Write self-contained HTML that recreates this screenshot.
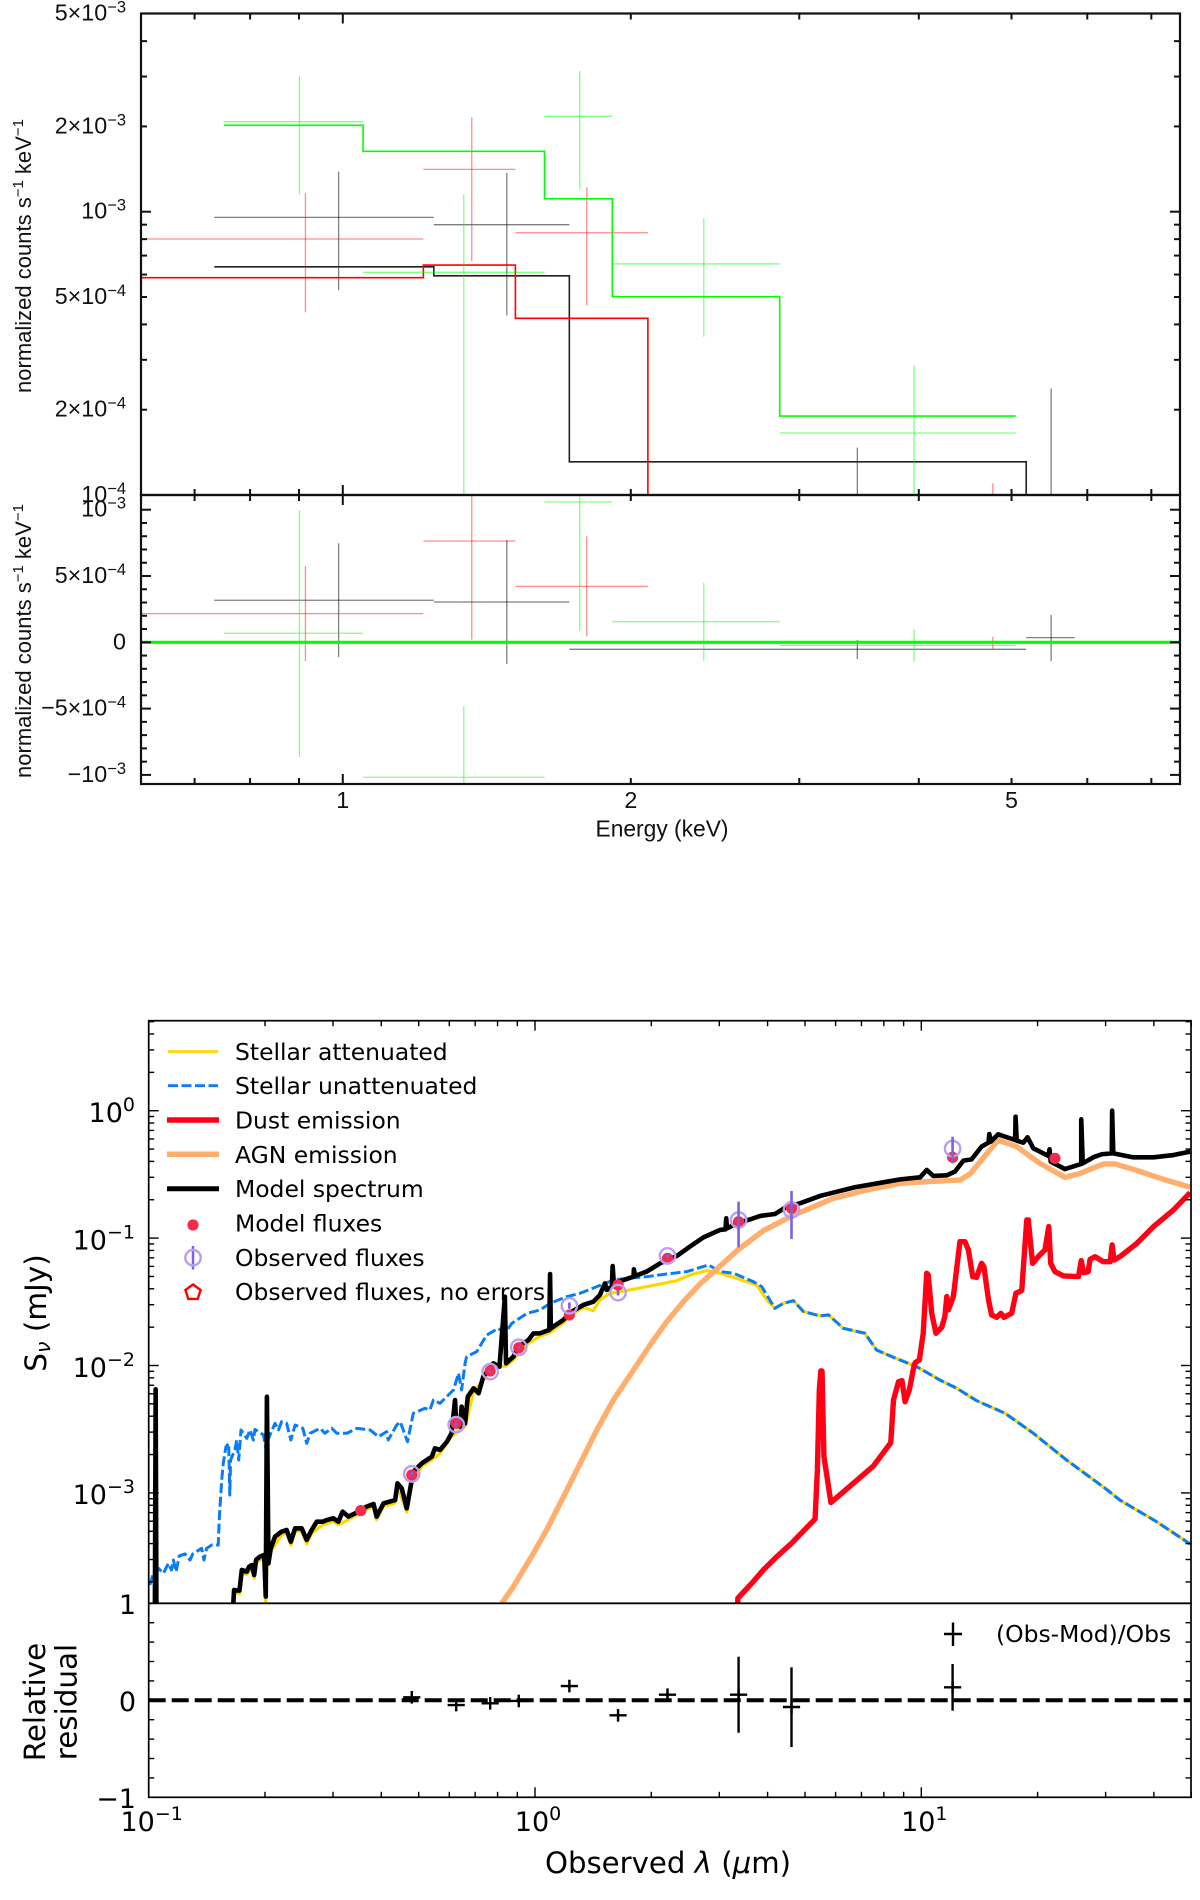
<!DOCTYPE html>
<html lang="en">
<head>
<meta charset="utf-8">
<title>X-ray spectrum and SED fit</title>
<style>
html,body{margin:0;padding:0;background:#fff;}
svg{display:block;}
.xt{font-family:"Liberation Sans",sans-serif;fill:#111;}
.sed{font-family:"DejaVu Sans",sans-serif;fill:#000;}
</style>
</head>
<body>
<svg id="figure" xmlns="http://www.w3.org/2000/svg" width="1200" height="1900" viewBox="0 0 1200 1900">
  <defs>
    <clipPath id="clip-top"><rect x="141" y="13.5" width="1039" height="481.5"/></clipPath>
    <clipPath id="clip-res"><rect x="141" y="495" width="1039" height="289"/></clipPath>
    <clipPath id="clip-sed"><rect x="148.7" y="1020.7" width="1042.3" height="582.6"/></clipPath>
  </defs>
  <rect x="0" y="0" width="1200" height="1900" fill="#fff"/>

  <g id="xray-spectrum-panel">
    <g id="xray-spectrum-marks" clip-path="url(#clip-top)"></g>
    <g id="xray-spectrum-ticks"></g>
    <rect x="141" y="13.5" width="1039" height="481.5" fill="none" stroke="#111" stroke-width="2.2"/>
  </g>
  <g id="xray-residual-panel">
    <g id="xray-residual-marks" clip-path="url(#clip-res)"></g>
    <g id="xray-residual-ticks"></g>
    <rect x="141" y="495" width="1039" height="289" fill="none" stroke="#111" stroke-width="2.2"/>
  </g>
  <text class="xt" transform="translate(31,256) rotate(-90)" text-anchor="middle" font-size="22">normalized counts s<tspan font-size="15" dy="-8">−1</tspan><tspan dy="8"> keV</tspan><tspan font-size="15" dy="-8">−1</tspan></text>
  <text class="xt" transform="translate(31,641) rotate(-90)" text-anchor="middle" font-size="22">normalized counts s<tspan font-size="15" dy="-8">−1</tspan><tspan dy="8"> keV</tspan><tspan font-size="15" dy="-8">−1</tspan></text>
  <text class="xt" x="662" y="836.5" text-anchor="middle" font-size="22.8">Energy (keV)</text>

  <g id="sed-panel">
    <g id="sed-marks" clip-path="url(#clip-sed)"></g>
    <g id="sed-ticks"></g>
    <rect x="148.7" y="1020.7" width="1042.3" height="582.6" fill="none" stroke="#000" stroke-width="1.7"/>
  </g>
  <g id="sed-residual-panel">
    <g id="sed-residual-marks"></g>
    <g id="sed-residual-ticks"></g>
    <rect x="148.7" y="1603.3" width="1042.3" height="194" fill="none" stroke="#000" stroke-width="1.7"/>
  </g>

  <g id="sed-legend">
    <g>
      <line x1="168" y1="1051.5" x2="218" y2="1051.5" stroke="#ffd700" stroke-width="2.8"/>
      <text class="sed" x="235" y="1060" font-size="23.45">Stellar attenuated</text>
    </g>
    <g>
      <line x1="168" y1="1085.7" x2="218" y2="1085.7" stroke="#0a7cf5" stroke-width="2.8" stroke-dasharray="10 3.5"/>
      <text class="sed" x="235" y="1094.2" font-size="23.45">Stellar unattenuated</text>
    </g>
    <g>
      <line x1="167" y1="1120" x2="219" y2="1120" stroke="#ff0015" stroke-width="5.5"/>
      <text class="sed" x="235" y="1128.5" font-size="23.45">Dust emission</text>
    </g>
    <g>
      <line x1="167" y1="1154.3" x2="219" y2="1154.3" stroke="#ffae6b" stroke-width="5.5"/>
      <text class="sed" x="235" y="1162.8" font-size="23.45">AGN emission</text>
    </g>
    <g>
      <line x1="167" y1="1188.7" x2="219" y2="1188.7" stroke="#000" stroke-width="5"/>
      <text class="sed" x="235" y="1197.2" font-size="23.45">Model spectrum</text>
    </g>
    <g>
      <circle cx="193" cy="1225" r="5.6" fill="#f42b4f"/>
      <text class="sed" x="235" y="1231.5" font-size="23.45">Model fluxes</text>
    </g>
    <g>
      <line x1="193" y1="1246" x2="193" y2="1269.5" stroke="#7b63d9" stroke-width="2.5"/>
      <circle cx="193" cy="1257.7" r="7.7" fill="none" stroke="#b99ff0" stroke-width="2.4"/>
      <text class="sed" x="235" y="1265.8" font-size="23.45">Observed fluxes</text>
    </g>
    <g>
      <polygon points="193,1284.5 200.6,1290 197.7,1298.9 188.3,1298.9 185.4,1290" fill="none" stroke="#f00" stroke-width="2.4"/>
      <text class="sed" x="235" y="1300.2" font-size="23.45">Observed fluxes, no errors</text>
    </g>
  </g>

  <text class="sed" transform="translate(46,1313) rotate(-90)" text-anchor="middle" font-size="29.5">S<tspan font-size="20.5" dy="4" font-style="italic">ν</tspan><tspan dy="-4"> (mJy)</tspan></text>
  <text class="sed" transform="translate(45,1702) rotate(-90)" text-anchor="middle" font-size="29.4">Relative</text>
  <text class="sed" transform="translate(76.5,1702) rotate(-90)" text-anchor="middle" font-size="29.4">residual</text>
  <text class="sed" x="668" y="1873" text-anchor="middle" font-size="29.2">Observed <tspan font-style="italic">λ</tspan> (<tspan font-style="italic">μ</tspan>m)</text>
  <g>
    <line x1="944" y1="1634" x2="962" y2="1634" stroke="#000" stroke-width="2.4"/>
    <line x1="953" y1="1622.5" x2="953" y2="1646" stroke="#000" stroke-width="2.4"/>
    <text class="sed" x="996" y="1642" font-size="23.45">(Obs-Mod)/Obs</text>
  </g>
</svg>

<script>
// ---------- X-ray spectrum: energies in keV, rates in counts/s/keV ----------
const blackEnergyLo = [0.734, 1.245, 1.725, 5.50];
const blackEnergyHi = [1.245, 1.725, 5.18, 5.50];
const blackEnergy = [0.990, 1.484, 3.45, 5.50];
const blackRate = [9.55e-4, 9.00e-4, 9.0e-5, 7.0e-5];
const blackRateHi = [1.384e-3, 1.37e-3, 1.47e-4, 2.38e-4];
const blackRateLo = [5.28e-4, 4.30e-4, 5.0e-5, 4.0e-5];
const blackModelEdges = [0.734, 1.245, 1.725, 5.18];
const blackModel = [6.39e-4, 5.94e-4, 1.31e-4, 5.0e-5];
const blackResidualLo = [0.734, 1.245, 1.725, 5.18];
const blackResidualHi = [1.245, 1.725, 5.18, 5.82];
const blackResidual = [3.17e-4, 3.04e-4, -5.3e-5, 3.5e-5];
const blackResidualUp = [7.47e-4, 7.71e-4, 1.7e-5, 2.06e-4];
const blackResidualDown = [-1.11e-4, -1.64e-4, -1.26e-4, -1.41e-4];

const redEnergyLo = [0.60, 1.214, 1.515, 4.78];
const redEnergyHi = [1.214, 1.515, 2.084, 4.78];
const redEnergy = [0.914, 1.364, 1.799, 4.78];
const redRate = [8.01e-4, 1.411e-3, 8.43e-4, 9.0e-5];
const redRateHi = [1.161e-3, 2.154e-3, 1.219e-3, 1.10e-4];
const redRateLo = [4.415e-4, 6.70e-4, 4.66e-4, 5.0e-5];
const redModelEdges = [0.60, 1.214, 1.515, 2.084];
const redModel = [5.85e-4, 6.48e-4, 4.205e-4, 5.0e-5];
const redResidual = [2.16e-4, 7.64e-4, 4.22e-4, -3.0e-6];
const redResidualUp = [5.75e-4, 1.25e-3, 7.99e-4, 4.2e-5];
const redResidualDown = [-1.43e-4, 2.0e-5, 4.5e-5, -4.8e-5];

const greenEnergyLo = [0.751, 1.050, 1.625, 1.913, 2.862];
const greenEnergyHi = [1.050, 1.625, 1.913, 2.862, 5.05];
const greenEnergy = [0.901, 1.338, 1.769, 2.384, 3.955];
const greenRate = [2.078e-3, 6.11e-4, 2.171e-3, 6.54e-4, 1.655e-4];
const greenRateHi = [3.01e-3, 1.148e-3, 3.14e-3, 9.48e-4, 2.87e-4];
const greenRateLo = [1.152e-3, 5.0e-5, 1.20e-3, 3.62e-4, 5.0e-5];
const greenModelEdges = [0.751, 1.050, 1.625, 1.913, 2.862, 5.05];
const greenModel = [2.018e-3, 1.634e-3, 1.111e-3, 5.01e-4, 1.90e-4];
const greenResidual = [6.8e-5, -1.018e-3, 1.058e-3, 1.55e-4, -2.3e-5];
const greenResidualUp = [9.98e-4, -4.83e-4, 1.3e-3, 4.47e-4, 9.8e-5];
const greenResidualDown = [-8.65e-4, -1.3e-3, 8.7e-5, -1.39e-4, -1.46e-4];

const xrayEnergyTicks = [0.7, 0.8, 0.9, 1, 2, 3, 4, 5, 6, 7];
const xrayEnergyLabelValues = [1, 2, 5];
const xrayEnergyLabels = ['1', '2', '5'];
const xrayRateMinorTicks = [4e-3, 3e-3, 2e-3, 9e-4, 8e-4, 7e-4, 6e-4, 5e-4, 4e-4, 3e-4, 2e-4];
const xrayRateLabelValues = [5e-3, 2e-3, 1e-3, 5e-4, 2e-4, 1e-4];
const xrayRateLabelBases = ['5×10', '2×10', '10', '5×10', '2×10', '10'];
const xrayRateLabelExps = ['−3', '−3', '−3', '−4', '−4', '−4'];
const residualTicks = [-1e-3, -9e-4, -8e-4, -7e-4, -6e-4, -5e-4, -4e-4, -3e-4, -2e-4, -1e-4, 0, 1e-4, 2e-4, 3e-4, 4e-4, 5e-4, 6e-4, 7e-4, 8e-4, 9e-4, 1e-3];
const residualMajorTicks = [-1e-3, -5e-4, 0, 5e-4, 1e-3];
const residualLabelValues = [1e-3, 5e-4, 0, -5e-4, -1e-3];
const residualLabelBases = ['10', '5×10', '0', '−5×10', '−10'];
const residualLabelExps = ['−3', '−4', '', '−4', '−3'];

// ---------- SED: log10(wavelength / micron), log10(flux / mJy) ----------
const modelLogWave = [-0.984,-0.982,-0.980,-0.7825,-0.779,-0.765,-0.759,-0.746,-0.740,-0.733,-0.727,-0.722,-0.712,-0.701,-0.697,-0.694,-0.690,-0.684,-0.673,-0.656,-0.643,-0.632,-0.621,-0.604,-0.591,-0.578,-0.565,-0.549,-0.539,-0.522,-0.509,-0.498,-0.483,-0.457,-0.436,-0.418,-0.410,-0.392,-0.362,-0.356,-0.345,-0.332,-0.319,-0.315,-0.293,-0.267,-0.259,-0.246,-0.228,-0.216,-0.207,-0.204,-0.194,-0.190,-0.181,-0.174,-0.159,-0.146,-0.134,-0.108,-0.092,-0.086,-0.078,-0.075,-0.056,-0.043,-0.017,-0.004,0.013,0.037,0.039,0.041,0.073,0.095,0.125,0.151,0.168,0.181,0.186,0.199,0.201,0.204,0.255,0.256,0.259,0.289,0.324,0.367,0.401,0.436,0.479,0.493,0.495,0.497,0.527,0.557,0.583,0.621,0.652,0.686,0.738,0.828,0.945,0.997,1.014,1.031,1.066,1.087,1.109,1.130,1.156,1.174,1.176,1.180,1.199,1.243,1.244,1.247,1.264,1.275,1.290,1.329,1.332,1.335,1.372,1.414,1.414,1.418,1.445,1.467,1.493,1.494,1.497,1.549,1.601,1.653,1.696];
const modelLogFlux = [-3.95,-2.187,-3.95,-3.95,-3.762,-3.767,-3.605,-3.618,-3.579,-3.566,-3.644,-3.526,-3.500,-3.487,-3.814,-2.245,-3.552,-3.435,-3.343,-3.304,-3.291,-3.383,-3.278,-3.278,-3.369,-3.291,-3.226,-3.226,-3.213,-3.199,-3.226,-3.147,-3.186,-3.147,-3.108,-3.087,-3.186,-3.082,-3.056,-2.925,-2.964,-3.121,-2.899,-2.833,-2.768,-2.715,-2.650,-2.663,-2.598,-2.532,-2.271,-2.467,-2.480,-2.323,-2.454,-2.245,-2.179,-2.218,-2.088,-1.983,-2.009,-1.774,-1.460,-1.983,-1.931,-1.852,-1.800,-1.748,-1.747,-1.721,-1.282,-1.708,-1.643,-1.577,-1.525,-1.499,-1.446,-1.355,-1.407,-1.381,-1.219,-1.355,-1.303,-1.245,-1.297,-1.263,-1.198,-1.140,-1.067,-0.994,-0.936,-0.931,-0.845,-0.923,-0.879,-0.853,-0.826,-0.811,-0.753,-0.727,-0.669,-0.601,-0.539,-0.523,-0.465,-0.512,-0.507,-0.478,-0.392,-0.382,-0.282,-0.251,-0.183,-0.243,-0.185,-0.230,-0.047,-0.235,-0.251,-0.209,-0.295,-0.355,-0.303,-0.400,-0.458,-0.418,-0.068,-0.413,-0.366,-0.342,-0.335,0.000,-0.335,-0.366,-0.366,-0.348,-0.321];

const attenuatedLogWave = [-0.782,-0.779,-0.765,-0.759,-0.746,-0.733,-0.727,-0.722,-0.701,-0.697,-0.694,-0.684,-0.656,-0.643,-0.632,-0.621,-0.604,-0.591,-0.578,-0.549,-0.522,-0.509,-0.483,-0.436,-0.418,-0.410,-0.392,-0.362,-0.356,-0.332,-0.319,-0.293,-0.267,-0.246,-0.216,-0.194,-0.181,-0.159,-0.134,-0.108,-0.075,-0.056,-0.017,0.013,0.037,0.073,0.095,0.125,0.151,0.168,0.194,0.237,0.289,0.367,0.401,0.445,0.479,0.522,0.574,0.600,0.621,0.643,0.669,0.695,0.738,0.760,0.798,0.854,0.884,0.928,0.988,1.048,1.092,1.143,1.217,1.290,1.376,1.476,1.514,1.609,1.696];
const attenuatedLogFlux = [-3.95,-3.785,-3.79,-3.63,-3.64,-3.59,-3.67,-3.55,-3.51,-3.87,-3.58,-3.46,-3.33,-3.315,-3.41,-3.30,-3.30,-3.40,-3.315,-3.25,-3.225,-3.25,-3.21,-3.13,-3.11,-3.21,-3.105,-3.08,-2.95,-3.15,-2.925,-2.79,-2.74,-2.69,-2.555,-2.505,-2.48,-2.205,-2.115,-2.005,-2.005,-1.955,-1.825,-1.77,-1.745,-1.665,-1.60,-1.545,-1.57,-1.486,-1.433,-1.412,-1.381,-1.334,-1.289,-1.255,-1.276,-1.316,-1.368,-1.486,-1.551,-1.512,-1.491,-1.577,-1.611,-1.603,-1.708,-1.747,-1.878,-1.936,-2.009,-2.114,-2.179,-2.276,-2.375,-2.532,-2.742,-2.964,-3.056,-3.226,-3.401];

const unattenuatedLogWave = [-0.997,-0.988,-0.975,-0.962,-0.949,-0.941,-0.936,-0.929,-0.921,-0.906,-0.893,-0.886,-0.863,-0.857,-0.850,-0.837,-0.820,-0.817,-0.811,-0.807,-0.800,-0.793,-0.790,-0.788,-0.777,-0.772,-0.767,-0.761,-0.746,-0.738,-0.729,-0.725,-0.703,-0.696,-0.690,-0.673,-0.664,-0.656,-0.643,-0.632,-0.621,-0.601,-0.591,-0.582,-0.556,-0.544,-0.526,-0.513,-0.487,-0.461,-0.427,-0.405,-0.384,-0.380,-0.358,-0.349,-0.330,-0.315,-0.285,-0.272,-0.263,-0.246,-0.211,-0.198,-0.190,-0.181,-0.177,-0.151,-0.125,-0.095,-0.078,-0.060,-0.021,0.013,0.039,0.082,0.117,0.160,0.203,0.237,0.289,0.341,0.393,0.449,0.479,0.514,0.565,0.587,0.600,0.621,0.643,0.669,0.695,0.738,0.760,0.798,0.854,0.884,0.928,0.988,1.048,1.092,1.143,1.217,1.290,1.376,1.476,1.514,1.609,1.696];
const unattenuatedLogFlux = [-3.723,-3.631,-3.592,-3.631,-3.553,-3.605,-3.527,-3.618,-3.495,-3.479,-3.527,-3.479,-3.435,-3.527,-3.435,-3.409,-3.409,-3.186,-2.899,-2.768,-2.637,-2.611,-3.016,-2.742,-2.663,-2.585,-2.742,-2.506,-2.572,-2.506,-2.585,-2.501,-2.545,-2.663,-2.572,-2.454,-2.506,-2.441,-2.454,-2.585,-2.467,-2.493,-2.611,-2.532,-2.493,-2.532,-2.493,-2.532,-2.532,-2.493,-2.506,-2.559,-2.519,-2.585,-2.467,-2.441,-2.598,-2.375,-2.336,-2.349,-2.271,-2.297,-2.192,-2.061,-2.192,-1.983,-1.931,-1.891,-1.761,-1.708,-1.748,-1.669,-1.591,-1.564,-1.512,-1.460,-1.433,-1.381,-1.329,-1.316,-1.303,-1.282,-1.263,-1.211,-1.263,-1.276,-1.342,-1.381,-1.446,-1.551,-1.512,-1.491,-1.577,-1.611,-1.603,-1.708,-1.747,-1.878,-1.936,-2.009,-2.114,-2.179,-2.276,-2.375,-2.532,-2.742,-2.964,-3.056,-3.226,-3.401];

const dustLogWave = [0.525,0.525,0.561,0.591,0.626,0.664,0.725,0.731,0.736,0.740,0.743,0.748,0.766,0.876,0.921,0.928,0.941,0.950,0.958,0.969,0.979,0.984,0.995,1.005,1.014,1.018,1.027,1.038,1.053,1.061,1.066,1.070,1.083,1.100,1.113,1.122,1.133,1.143,1.156,1.162,1.174,1.182,1.195,1.206,1.214,1.234,1.245,1.260,1.273,1.277,1.288,1.307,1.320,1.330,1.335,1.346,1.368,1.407,1.414,1.420,1.432,1.437,1.450,1.471,1.489,1.494,1.499,1.514,1.558,1.601,1.653,1.696];
const dustLogFlux = [-3.867,-3.827,-3.710,-3.605,-3.500,-3.396,-3.205,-2.820,-2.192,-2.043,-2.043,-2.715,-3.076,-2.789,-2.606,-2.271,-2.127,-2.119,-2.284,-2.192,-2.035,-1.978,-1.957,-1.747,-1.276,-1.289,-1.590,-1.747,-1.700,-1.616,-1.459,-1.564,-1.459,-1.028,-1.028,-1.093,-1.302,-1.308,-1.198,-1.224,-1.486,-1.603,-1.622,-1.590,-1.622,-1.590,-1.433,-1.412,-0.858,-0.858,-1.198,-1.132,-1.093,-0.910,-1.198,-1.263,-1.297,-1.302,-1.177,-1.271,-1.263,-1.166,-1.146,-1.185,-1.185,-1.054,-1.172,-1.146,-1.041,-0.910,-0.779,-0.643];

const agnLogWave = [-0.086,-0.056,-0.030,-0.004,0.030,0.065,0.117,0.160,0.203,0.255,0.298,0.341,0.384,0.427,0.470,0.527,0.591,0.665,0.772,0.859,0.945,1.014,1.100,1.126,1.199,1.247,1.307,1.372,1.411,1.471,1.501,1.549,1.627,1.696];
const agnLogFlux = [-3.867,-3.736,-3.605,-3.474,-3.291,-3.082,-2.768,-2.506,-2.270,-2.035,-1.839,-1.656,-1.499,-1.360,-1.245,-1.088,-0.942,-0.826,-0.688,-0.622,-0.570,-0.557,-0.544,-0.497,-0.230,-0.282,-0.413,-0.523,-0.492,-0.418,-0.418,-0.460,-0.539,-0.601];

const modelFluxLogWave = [-0.451,-0.319,-0.204,-0.116,-0.042,0.089,0.215,0.343,0.527,0.664,1.081,1.346];
const modelFluxLogFlux = [-3.139,-2.859,-2.454,-2.043,-1.860,-1.604,-1.368,-1.159,-0.871,-0.766,-0.366,-0.374];

const observedLogWave = [-0.319,-0.204,-0.116,-0.042,0.089,0.215,0.343,0.527,0.664,1.081];
const observedLogFlux = [-2.851,-2.464,-2.048,-1.857,-1.531,-1.428,-1.140,-0.858,-0.779,-0.298];
const observedLogUpper = [-2.835,-2.445,-2.040,-1.848,-1.505,-1.405,-1.125,-0.714,-0.630,-0.204];
const observedLogLower = [-2.865,-2.480,-2.056,-1.866,-1.555,-1.450,-1.155,-1.072,-1.007,-0.413];

const relativeResidual = [0.031,-0.049,-0.031,-0.007,0.147,-0.155,0.058,0.058,-0.069,0.134];
const relativeResidualUpper = [0.06,-0.03,-0.02,0,0.16,-0.14,0.09,0.449,0.34,0.374];
const relativeResidualLower = [0,-0.07,-0.04,-0.015,0.13,-0.17,0.02,-0.334,-0.481,-0.107];

const sedXDecades = [-1, 0, 1];
const sedXLabelBases = ['10', '10', '10'];
const sedXLabelExps = ['−1', '0', '1'];
const sedYDecades = [0, -1, -2, -3];
const sedYLabelExps = ['0', '−1', '−2', '−3'];
const sedResidualLabelValues = [1, 0, -1];
const sedResidualLabels = ['1', '0', '−1'];
const sedResidualTicks = [-0.8, -0.6, -0.4, -0.2, 0, 0.2, 0.4, 0.6, 0.8];

// ---------- helpers and axis functions ----------
const NS = 'http://www.w3.org/2000/svg';
function mk(parent, tag, attrs) {
  const el = document.createElementNS(NS, tag);
  for (const k in attrs) el.setAttribute(k, attrs[k]);
  parent.appendChild(el);
  return el;
}
const log10 = Math.log10;
function topX(e) { return 141 + (log10(e) - log10(0.6153)) / (log10(7.5) - log10(0.6153)) * 1039; }
function topY(v) { return 495 - (log10(Math.max(v, 1e-6)) + 4) * 283.3; }
function resY(v) { return 642.3 - v * 132600; }
function sedX(l) { return 148.7 + (l + 1) * 386.3; }
function sedY(f) { return 1110.7 - f * 127.4; }
function sedResY(v) { return 1700.3 - v * 97; }
function polyPath(xs, ys, fx, fy) {
  let d = '';
  for (let i = 0; i < xs.length; i++) {
    d += (i ? 'L' : 'M') + fx(xs[i]).toFixed(2) + ' ' + fy(ys[i]).toFixed(2);
  }
  return d;
}
function stepPath(edges, values) {
  let d = '';
  for (let i = 0; i < edges.length - 1; i++) {
    d += (i ? 'L' : 'M') + topX(edges[i]).toFixed(2) + ' ' + topY(values[i]).toFixed(2);
    d += 'L' + topX(edges[i + 1]).toFixed(2) + ' ' + topY(values[i]).toFixed(2);
  }
  if (values.length === edges.length) {
    d += 'L' + topX(edges[edges.length - 1]).toFixed(2) + ' ' + topY(values[values.length - 1]).toFixed(2);
  }
  return d;
}

const topMarks = document.getElementById('xray-spectrum-marks');
const resMarks = document.getElementById('xray-residual-marks');

function drawXraySeries(name, color, alphaColor, lo, hi, en, rate, up, down, edges, model) {
  for (let i = 0; i < en.length; i++) {
    const h = mk(topMarks, 'line', {x1: topX(lo[i]), x2: topX(hi[i]), y1: topY(rate[i]), y2: topY(rate[i]), stroke: alphaColor, 'stroke-width': 1.3});
    
    
    const v = mk(topMarks, 'line', {x1: topX(en[i]), x2: topX(en[i]), y1: topY(up[i]), y2: topY(down[i]), stroke: alphaColor, 'stroke-width': 1.3});
    
    
  }
  const m = mk(topMarks, 'path', {d: stepPath(edges, model), fill: 'none', stroke: color, 'stroke-width': 1.6});
  
  
}
function drawXrayResidual(name, alphaColor, lo, hi, en, res, up, down) {
  for (let i = 0; i < en.length; i++) {
    const h = mk(resMarks, 'line', {x1: topX(lo[i]), x2: topX(hi[i]), y1: resY(res[i]), y2: resY(res[i]), stroke: alphaColor, 'stroke-width': 1.3});
    
    
    const v = mk(resMarks, 'line', {x1: topX(en[i]), x2: topX(en[i]), y1: resY(up[i]), y2: resY(down[i]), stroke: alphaColor, 'stroke-width': 1.3});
    
    
  }
}
drawXraySeries('black', '#222', 'rgba(0,0,0,0.5)', blackEnergyLo, blackEnergyHi, blackEnergy, blackRate, blackRateHi, blackRateLo, blackModelEdges, blackModel);
drawXraySeries('red', '#ff0000', 'rgba(255,0,0,0.45)', redEnergyLo, redEnergyHi, redEnergy, redRate, redRateHi, redRateLo, redModelEdges, redModel);
drawXraySeries('green', '#00ff00', 'rgba(0,255,0,0.48)', greenEnergyLo, greenEnergyHi, greenEnergy, greenRate, greenRateHi, greenRateLo, greenModelEdges, greenModel);
drawXrayResidual('black', 'rgba(0,0,0,0.5)', blackResidualLo, blackResidualHi, blackEnergy, blackResidual, blackResidualUp, blackResidualDown);
drawXrayResidual('red', 'rgba(255,0,0,0.45)', redEnergyLo, redEnergyHi, redEnergy, redResidual, redResidualUp, redResidualDown);
drawXrayResidual('green', 'rgba(0,255,0,0.48)', greenEnergyLo, greenEnergyHi, greenEnergy, greenResidual, greenResidualUp, greenResidualDown);
const zeroLine = mk(resMarks, 'line', {x1: 141, x2: 1180, y1: resY(0), y2: resY(0), stroke: '#00ff00', 'stroke-width': 3.2});



// X-ray ticks
const topTicks = document.getElementById('xray-spectrum-ticks');
const resTicks = document.getElementById('xray-residual-ticks');
xrayEnergyTicks.forEach(function (e) {
  const len = e === 1 ? 10 : 6;
  const x = topX(e);
  [[topTicks, 13.5, 13.5 + len], [topTicks, 495, 495 - len], [resTicks, 495, 495 + len], [resTicks, 784, 784 - len]].forEach(function (t) {
    const tick = mk(t[0], 'line', {x1: x, x2: x, y1: t[1], y2: t[2], stroke: '#111', 'stroke-width': 2});
    
    
  });
});
function drawYTick(group, y, x0, x1, len, name, color, w) {
  const a = mk(group, 'line', {x1: x0, x2: x0 + len, y1: y, y2: y, stroke: color, 'stroke-width': w});
  
  
  const b = mk(group, 'line', {x1: x1, x2: x1 - len, y1: y, y2: y, stroke: color, 'stroke-width': w});
  
  
}
xrayRateMinorTicks.forEach(function (v) { drawYTick(topTicks, topY(v), 141, 1180, 6, 'xray-rate-minor-tick', '#111', 2); });
drawYTick(topTicks, topY(1e-3), 141, 1180, 10, 'xray-rate-major-tick', '#111', 2);
residualTicks.forEach(function (v) {
  const len = residualMajorTicks.indexOf(v) >= 0 ? 10 : 6;
  drawYTick(resTicks, resY(v), 141, 1180, len, 'xray-residual-tick', '#111', 2);
});
function drawXtLabel(group, name, x, y, base, exp, anchor) {
  const t = mk(group, 'text', {x: x, y: y, 'text-anchor': anchor, 'font-size': 23.3, 'class': 'xt'});
  
  
  t.appendChild(document.createTextNode(base));
  if (exp) {
    const s = mk(t, 'tspan', {dy: -8, 'font-size': 16.5});
    s.textContent = exp;
  }
}
xrayRateLabelValues.forEach(function (v, i) {
  drawXtLabel(topTicks, 'xray-rate-tick-label', 126, topY(v) + 7, xrayRateLabelBases[i], xrayRateLabelExps[i], 'end');
});
residualLabelValues.forEach(function (v, i) {
  drawXtLabel(resTicks, 'xray-residual-tick-label', 126, resY(v) + 7, residualLabelBases[i], residualLabelExps[i], 'end');
});
xrayEnergyLabelValues.forEach(function (e, i) {
  drawXtLabel(resTicks, 'xray-energy-tick-label', topX(e), 808, xrayEnergyLabels[i], '', 'middle');
});

// SED curves
const sedMarks = document.getElementById('sed-marks');
const attenuatedLine = mk(sedMarks, 'path', {d: polyPath(attenuatedLogWave, attenuatedLogFlux, sedX, sedY), fill: 'none', stroke: '#ffd700', 'stroke-width': 3.2, 'stroke-linejoin': 'round'});


const unattenuatedLine = mk(sedMarks, 'path', {d: polyPath(unattenuatedLogWave, unattenuatedLogFlux, sedX, sedY), fill: 'none', stroke: '#0a7cf5', 'stroke-width': 3, 'stroke-dasharray': '10 3.5', 'stroke-linejoin': 'round'});


const dustLine = mk(sedMarks, 'path', {d: polyPath(dustLogWave, dustLogFlux, sedX, sedY), fill: 'none', stroke: '#ff0015', 'stroke-width': 5.4, 'stroke-linejoin': 'round'});


const agnLine = mk(sedMarks, 'path', {d: polyPath(agnLogWave, agnLogFlux, sedX, sedY), fill: 'none', stroke: '#ffae6b', 'stroke-width': 5.4, 'stroke-linejoin': 'round'});


const modelLine = mk(sedMarks, 'path', {d: polyPath(modelLogWave, modelLogFlux, sedX, sedY), fill: 'none', stroke: '#000', 'stroke-width': 4.6, 'stroke-linejoin': 'round'});



for (let i = 0; i < modelFluxLogWave.length; i++) {
  const c = mk(sedMarks, 'circle', {cx: sedX(modelFluxLogWave[i]), cy: sedY(modelFluxLogFlux[i]), r: 5.6, fill: '#f42b4f'});
  
  
}
for (let i = 0; i < observedLogWave.length; i++) {
  const ring = mk(sedMarks, 'circle', {cx: sedX(observedLogWave[i]), cy: sedY(observedLogFlux[i]), r: 7.7, fill: 'none', stroke: '#b99ff0', 'stroke-width': 2.4});
  
  
  const bar = mk(sedMarks, 'line', {x1: sedX(observedLogWave[i]), x2: sedX(observedLogWave[i]), y1: sedY(observedLogUpper[i]), y2: sedY(observedLogLower[i]), stroke: '#7b63d9', 'stroke-width': 2.6});
  
  
}

// SED ticks
const sedTicks = document.getElementById('sed-ticks');
const sedResTicks = document.getElementById('sed-residual-ticks');
const minorFactors = [2, 3, 4, 5, 6, 7, 8, 9];
[-1, 0, 1].forEach(function (d) {
  minorFactors.forEach(function (m) {
    const l = d + log10(m);
    if (l > log10(50)) return;
    const x = sedX(l);
    const a = mk(sedTicks, 'line', {x1: x, x2: x, y1: 1020.7, y2: 1026.2, stroke: '#000', 'stroke-width': 1.4});
    
    
    const b = mk(sedResTicks, 'line', {x1: x, x2: x, y1: 1797.3, y2: 1791.8, stroke: '#000', 'stroke-width': 1.4});
    
    
  });
});
sedXDecades.forEach(function (d, i) {
  const x = sedX(d);
  const a = mk(sedTicks, 'line', {x1: x, x2: x, y1: 1020.7, y2: 1030.7, stroke: '#000', 'stroke-width': 1.4});
  
  
  const b = mk(sedResTicks, 'line', {x1: x, x2: x, y1: 1797.3, y2: 1787.3, stroke: '#000', 'stroke-width': 1.4});
  
  
  const t = mk(sedResTicks, 'text', {x: x + 3, y: 1831, 'text-anchor': 'middle', 'font-size': 27, 'class': 'sed'});
  
  
  t.appendChild(document.createTextNode(sedXLabelBases[i]));
  const s = mk(t, 'tspan', {dy: -11, 'font-size': 19});
  s.textContent = sedXLabelExps[i];
});
sedYDecades.forEach(function (d, i) {
  drawYTick(sedTicks, sedY(d), 148.7, 1191, 10, 'sed-y-major-tick', '#000', 1.4);
  const t = mk(sedTicks, 'text', {x: 135, y: sedY(d) + 11.3, 'text-anchor': 'end', 'font-size': 27, 'class': 'sed'});
  
  
  t.appendChild(document.createTextNode('10'));
  const s = mk(t, 'tspan', {dy: -11, 'font-size': 19});
  s.textContent = sedYLabelExps[i];
});
[0, -1, -2, -3, -4].forEach(function (d) {
  minorFactors.forEach(function (m) {
    const l = d + log10(m);
    if (l > 0.706 || l < -3.868) return;
    drawYTick(sedTicks, sedY(l), 148.7, 1191, 5.5, 'sed-y-minor-tick', '#000', 1.4);
  });
});
sedResidualTicks.forEach(function (v) {
  drawYTick(sedResTicks, sedResY(v), 148.7, 1191, 5.5, 'residual-y-tick', '#000', 1.4);
});
sedResidualLabelValues.forEach(function (v, i) {
  const t = mk(sedResTicks, 'text', {x: 136, y: sedResY(v) + 10.5, 'text-anchor': 'end', 'font-size': 27, 'class': 'sed'});
  
  
  t.textContent = sedResidualLabels[i];
});

// SED residual marks
const sedResMarks = document.getElementById('sed-residual-marks');
const dashZero = mk(sedResMarks, 'line', {x1: 148.7, x2: 1191, y1: sedResY(0), y2: sedResY(0), stroke: '#000', 'stroke-width': 4, 'stroke-dasharray': '17 6'});


for (let i = 0; i < observedLogWave.length; i++) {
  const x = sedX(observedLogWave[i]);
  const y = sedResY(relativeResidual[i]);
  const h = mk(sedResMarks, 'line', {x1: x - 8.6, x2: x + 8.6, y1: y, y2: y, stroke: '#000', 'stroke-width': 2.4});
  
  
  const v = mk(sedResMarks, 'line', {x1: x, x2: x, y1: y - 6.3, y2: y + 6.3, stroke: '#000', 'stroke-width': 2.4});
  
  
  const e = mk(sedResMarks, 'line', {x1: x, x2: x, y1: sedResY(relativeResidualUpper[i]), y2: sedResY(relativeResidualLower[i]), stroke: '#000', 'stroke-width': 2.4});
  
  
}
</script>
</body>
</html>
